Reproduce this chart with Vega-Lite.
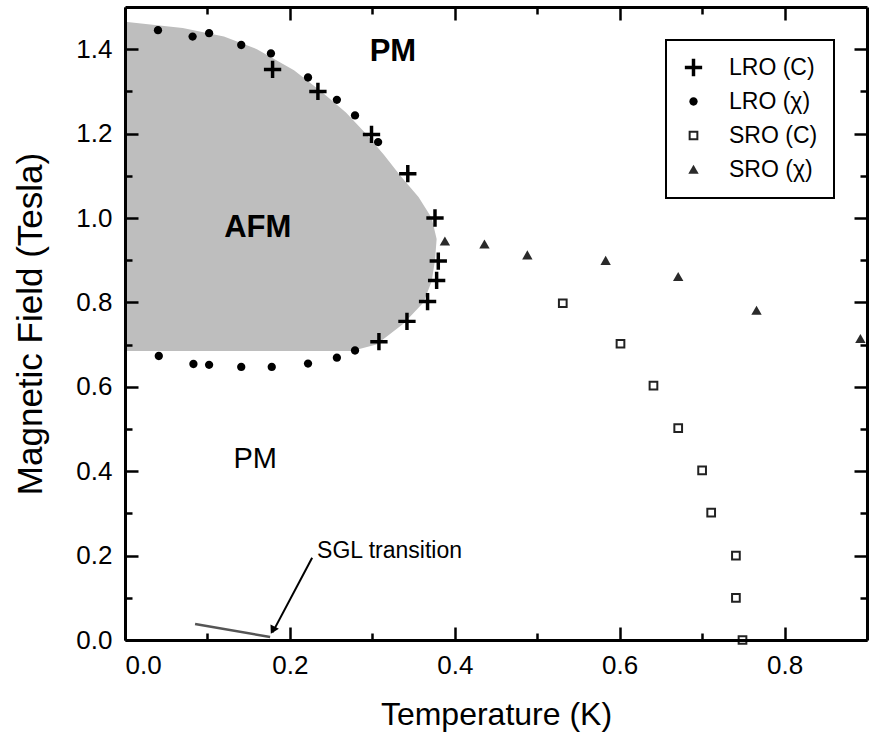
{
  "$schema": "https://vega.github.io/schema/vega-lite/v6.json",
  "width": 742,
  "height": 633,
  "autosize": {"type": "none"},
  "padding": {"left": 125, "top": 7, "right": 5, "bottom": 93},
  "background": "white",
  "config": {
    "view": {"stroke": null},
    "font": "Liberation Sans",
    "axis": {"grid": false, "tickColor": "black", "tickWidth": 2.5, "domainColor": "black", "domainWidth": 3, "labelColor": "black", "titleColor": "black"},
    "legend": {
      "orient": "top-right",
      "offset": 33,
      "padding": 16,
      "strokeColor": "black",
      "strokeWidth": 2,
      "fillColor": "white",
      "labelFont": "Liberation Sans",
      "labelFontSize": 23,
      "labelColor": "black",
      "rowPadding": 10,
      "labelOffset": 24,
      "symbolSize": 300,
      "symbolStrokeWidth": 0
    }
  },
  "datasets": {
    "afm": [
      {"H": 0.685, "T": 0.275},
      {"H": 0.70, "T": 0.305},
      {"H": 0.75, "T": 0.338},
      {"H": 0.80, "T": 0.362},
      {"H": 0.85, "T": 0.372},
      {"H": 0.90, "T": 0.376},
      {"H": 0.95, "T": 0.378},
      {"H": 1.00, "T": 0.372},
      {"H": 1.05, "T": 0.356},
      {"H": 1.10, "T": 0.334},
      {"H": 1.15, "T": 0.314},
      {"H": 1.20, "T": 0.292},
      {"H": 1.25, "T": 0.268},
      {"H": 1.30, "T": 0.238},
      {"H": 1.35, "T": 0.205},
      {"H": 1.40, "T": 0.16},
      {"H": 1.43, "T": 0.12},
      {"H": 1.45, "T": 0.07},
      {"H": 1.465, "T": 0.0}
    ],
    "points": [
      {"series": "LRO (C)", "T": 0.179, "H": 1.352},
      {"series": "LRO (C)", "T": 0.234, "H": 1.30},
      {"series": "LRO (C)", "T": 0.299, "H": 1.198},
      {"series": "LRO (C)", "T": 0.343, "H": 1.105},
      {"series": "LRO (C)", "T": 0.376, "H": 1.0},
      {"series": "LRO (C)", "T": 0.380, "H": 0.898},
      {"series": "LRO (C)", "T": 0.378, "H": 0.852},
      {"series": "LRO (C)", "T": 0.367, "H": 0.802},
      {"series": "LRO (C)", "T": 0.342, "H": 0.755},
      {"series": "LRO (C)", "T": 0.308, "H": 0.707},
      {"series": "LRO (χ)", "T": 0.040, "H": 1.445},
      {"series": "LRO (χ)", "T": 0.082, "H": 1.43},
      {"series": "LRO (χ)", "T": 0.102, "H": 1.438},
      {"series": "LRO (χ)", "T": 0.141, "H": 1.41},
      {"series": "LRO (χ)", "T": 0.177, "H": 1.39},
      {"series": "LRO (χ)", "T": 0.222, "H": 1.333},
      {"series": "LRO (χ)", "T": 0.257, "H": 1.28},
      {"series": "LRO (χ)", "T": 0.279, "H": 1.243},
      {"series": "LRO (χ)", "T": 0.307, "H": 1.18},
      {"series": "LRO (χ)", "T": 0.041, "H": 0.673},
      {"series": "LRO (χ)", "T": 0.083, "H": 0.654},
      {"series": "LRO (χ)", "T": 0.102, "H": 0.652},
      {"series": "LRO (χ)", "T": 0.141, "H": 0.647},
      {"series": "LRO (χ)", "T": 0.178, "H": 0.647},
      {"series": "LRO (χ)", "T": 0.222, "H": 0.655},
      {"series": "LRO (χ)", "T": 0.257, "H": 0.669},
      {"series": "LRO (χ)", "T": 0.279, "H": 0.686},
      {"series": "SRO (C)", "T": 0.531, "H": 0.798},
      {"series": "SRO (C)", "T": 0.601, "H": 0.702},
      {"series": "SRO (C)", "T": 0.641, "H": 0.603},
      {"series": "SRO (C)", "T": 0.671, "H": 0.502},
      {"series": "SRO (C)", "T": 0.700, "H": 0.402},
      {"series": "SRO (C)", "T": 0.711, "H": 0.302},
      {"series": "SRO (C)", "T": 0.741, "H": 0.200},
      {"series": "SRO (C)", "T": 0.741, "H": 0.100},
      {"series": "SRO (C)", "T": 0.749, "H": 0.0},
      {"series": "SRO (χ)", "T": 0.388, "H": 0.945},
      {"series": "SRO (χ)", "T": 0.436, "H": 0.938},
      {"series": "SRO (χ)", "T": 0.488, "H": 0.912},
      {"series": "SRO (χ)", "T": 0.583, "H": 0.899},
      {"series": "SRO (χ)", "T": 0.671, "H": 0.861},
      {"series": "SRO (χ)", "T": 0.766, "H": 0.781},
      {"series": "SRO (χ)", "T": 0.892, "H": 0.714}
    ],
    "sgl": [
      {"T": 0.085, "H": 0.038},
      {"T": 0.176, "H": 0.007}
    ],
    "arrow": [
      {"T": 0.227, "H": 0.195},
      {"T": 0.179, "H": 0.018}
    ],
    "arrowhead": [
      {"T": 0.180, "H": 0.026}
    ],
    "boldLabels": [
      {"text": "PM", "T": 0.325, "H": 1.393},
      {"text": "AFM", "T": 0.161, "H": 0.976}
    ],
    "plainLabels": [
      {"text": "PM", "T": 0.158, "H": 0.429}
    ],
    "note": [
      {"text": "SGL transition", "T": 0.233, "H": 0.21}
    ]
  },
  "resolve": {"axis": {"x": "independent", "y": "independent"}},
  "layer": [
    {
      "data": {"name": "afm"},
      "mark": {"type": "area", "orient": "horizontal", "color": "#bebebe"},
      "encoding": {
        "y": {"field": "H", "type": "quantitative", "scale": {"domain": [0, 1.5], "nice": false, "zero": false},
          "axis": {"orient": "left", "values": [0, 0.2, 0.4, 0.6, 0.8, 1.0, 1.2, 1.4], "format": ".1f", "tickSize": -13, "labelPadding": 26, "labelFontSize": 26, "labelFont": "Liberation Sans", "title": "Magnetic Field (Tesla)", "titleFontSize": 35, "titleFont": "Liberation Sans", "titleFontWeight": "normal", "titlePadding": 27, "domain": true, "zindex": 1}},
        "x": {"field": "T", "type": "quantitative", "scale": {"domain": [0, 0.9], "nice": false, "zero": false},
          "axis": {"orient": "bottom", "values": [0, 0.2, 0.4, 0.6, 0.8], "format": ".1f", "tickSize": -13, "labelPadding": 25, "labelFontSize": 26, "labelFont": "Liberation Sans", "title": "Temperature (K)", "titleFontSize": 32, "titleFont": "Liberation Sans", "titleFontWeight": "normal", "titlePadding": 21, "domain": true, "zindex": 1}},
        "x2": {"datum": 0}
      }
    },
    {
      "data": {"name": "sgl"},
      "mark": {"type": "line", "color": "#555555", "strokeWidth": 2.5},
      "encoding": {
        "x": {"field": "T", "type": "quantitative", "scale": {"domain": [0, 0.9], "nice": false, "zero": false},
          "axis": {"orient": "bottom", "values": [0.1, 0.3, 0.5, 0.7], "tickSize": -7, "labels": false, "domain": false, "title": null, "zindex": 1}},
        "y": {"field": "H", "type": "quantitative", "scale": {"domain": [0, 1.5], "nice": false, "zero": false},
          "axis": {"orient": "left", "values": [0.1, 0.3, 0.5, 0.7, 0.9, 1.1, 1.3], "tickSize": -7, "labels": false, "domain": false, "title": null, "zindex": 1}}
      }
    },
    {
      "data": {"name": "arrow"},
      "mark": {"type": "line", "color": "black", "strokeWidth": 2},
      "encoding": {
        "x": {"field": "T", "type": "quantitative", "scale": {"domain": [0, 0.9], "nice": false, "zero": false},
          "axis": {"orient": "top", "values": [0, 0.2, 0.4, 0.6, 0.8], "tickSize": -13, "labels": false, "domain": true, "title": null, "zindex": 1}},
        "y": {"field": "H", "type": "quantitative", "scale": {"domain": [0, 1.5], "nice": false, "zero": false},
          "axis": {"orient": "right", "values": [0, 0.2, 0.4, 0.6, 0.8, 1.0, 1.2, 1.4], "tickSize": -13, "labels": false, "domain": true, "title": null, "zindex": 1}}
      }
    },
    {
      "data": {"name": "arrowhead"},
      "mark": {"type": "point", "shape": "triangle", "filled": true, "color": "black", "opacity": 1, "size": 90, "angle": 208},
      "encoding": {
        "x": {"field": "T", "type": "quantitative", "scale": {"domain": [0, 0.9], "nice": false, "zero": false},
          "axis": {"orient": "top", "values": [0.1, 0.3, 0.5, 0.7], "tickSize": -7, "labels": false, "domain": false, "title": null, "zindex": 1}},
        "y": {"field": "H", "type": "quantitative", "scale": {"domain": [0, 1.5], "nice": false, "zero": false},
          "axis": {"orient": "right", "values": [0.1, 0.3, 0.5, 0.7, 0.9, 1.1, 1.3], "tickSize": -7, "labels": false, "domain": false, "title": null, "zindex": 1}}
      }
    },
    {
      "data": {"name": "points"},
      "mark": {"type": "point", "filled": true, "strokeWidth": 0, "opacity": 1, "size": 300},
      "encoding": {
        "x": {"field": "T", "type": "quantitative", "scale": {"domain": [0, 0.9], "nice": false, "zero": false}, "axis": null},
        "y": {"field": "H", "type": "quantitative", "scale": {"domain": [0, 1.5], "nice": false, "zero": false}, "axis": null},
        "shape": {"field": "series", "type": "nominal",
          "scale": {"domain": ["LRO (C)", "LRO (χ)", "SRO (C)", "SRO (χ)"],
            "range": [
              "M-1,-0.2H-0.2V-1H0.2V-0.2H1V0.2H0.2V1H-0.2V0.2H-1Z",
              "M-0.48,0A0.48,0.48 0 1,0 0.48,0A0.48,0.48 0 1,0 -0.48,0Z",
              "M-0.56,-0.56H0.56V0.56H-0.56ZM-0.33,-0.33V0.33H0.33V-0.33Z",
              "M0,-0.55L0.6,0.5H-0.6Z"
            ]},
          "legend": {"title": null}},
        "fill": {"field": "series", "type": "nominal",
          "scale": {"domain": ["LRO (C)", "LRO (χ)", "SRO (C)", "SRO (χ)"], "range": ["black", "black", "#222222", "#2a2a2a"]},
          "legend": {"title": null}}
      }
    },
    {
      "data": {"name": "boldLabels"},
      "mark": {"type": "text", "font": "Liberation Sans", "fontSize": 31, "fontWeight": "bold", "color": "black", "align": "center", "baseline": "middle"},
      "encoding": {
        "x": {"field": "T", "type": "quantitative", "scale": {"domain": [0, 0.9], "nice": false, "zero": false}, "axis": null},
        "y": {"field": "H", "type": "quantitative", "scale": {"domain": [0, 1.5], "nice": false, "zero": false}, "axis": null},
        "text": {"field": "text"}
      }
    },
    {
      "data": {"name": "plainLabels"},
      "mark": {"type": "text", "font": "Liberation Sans", "fontSize": 29, "color": "black", "align": "center", "baseline": "middle"},
      "encoding": {
        "x": {"field": "T", "type": "quantitative", "scale": {"domain": [0, 0.9], "nice": false, "zero": false}, "axis": null},
        "y": {"field": "H", "type": "quantitative", "scale": {"domain": [0, 1.5], "nice": false, "zero": false}, "axis": null},
        "text": {"field": "text"}
      }
    },
    {
      "data": {"name": "note"},
      "mark": {"type": "text", "font": "Liberation Sans", "fontSize": 23, "color": "black", "align": "left", "baseline": "middle"},
      "encoding": {
        "x": {"field": "T", "type": "quantitative", "scale": {"domain": [0, 0.9], "nice": false, "zero": false}, "axis": null},
        "y": {"field": "H", "type": "quantitative", "scale": {"domain": [0, 1.5], "nice": false, "zero": false}, "axis": null},
        "text": {"field": "text"}
      }
    }
  ]
}
